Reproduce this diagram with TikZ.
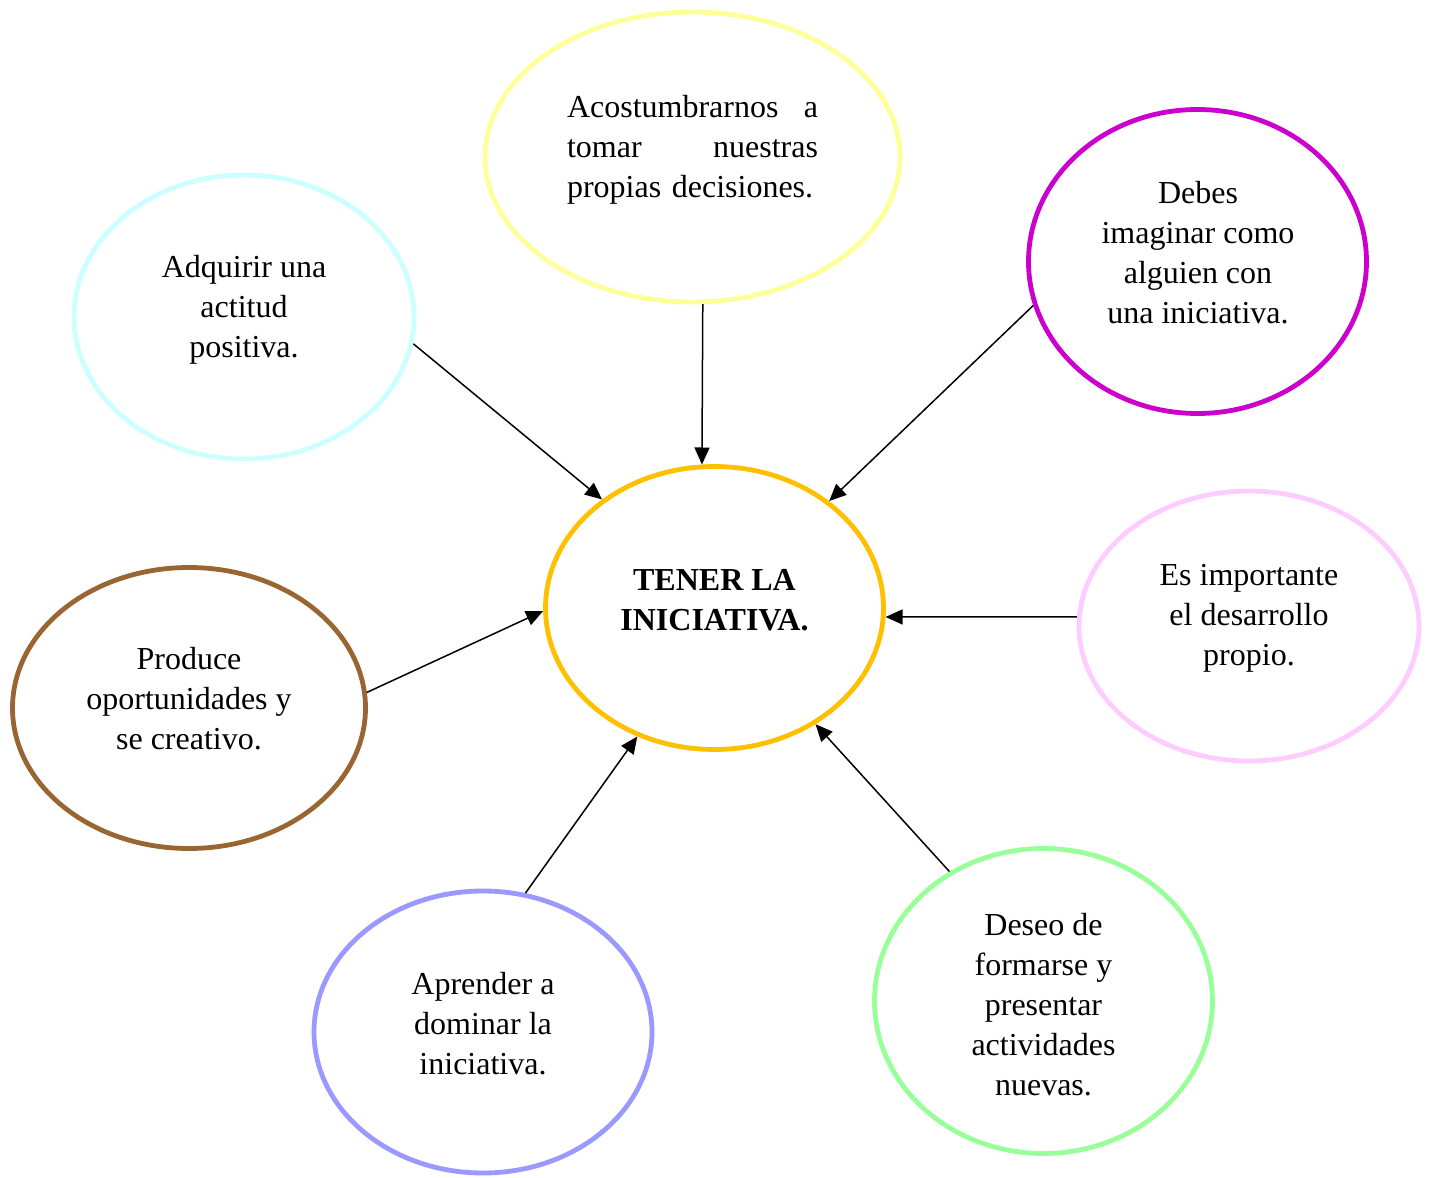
\documentclass[tikz,border=0pt]{standalone}
\usepackage{fontspec}
\setmainfont{Liberation Serif}
\usetikzlibrary{shapes.geometric,arrows.meta}

\definecolor{cYellow}{HTML}{FFFF99}
\definecolor{cCyan}{HTML}{CCFFFF}
\definecolor{cMagenta}{HTML}{CC00CC}
\definecolor{cOrange}{HTML}{FFC000}
\definecolor{cPink}{HTML}{FFCCFF}
\definecolor{cBrown}{HTML}{996633}
\definecolor{cBlue}{HTML}{9999FF}
\definecolor{cGreen}{HTML}{99FF99}

\tikzset{
  bubble/.style={ellipse, draw=#1, line width=2.4pt, inner sep=0pt},
  label text/.style={align=center, inner sep=0pt, font=\fontsize{16}{20}\selectfont},
  link/.style={line width=0.75pt, -{Triangle[length=8.5pt,width=7.5pt]}},
}

\begin{document}
\begin{tikzpicture}[x=0.5pt, y=-0.5pt]
\useasboundingbox (0,0) rectangle (1432,1178);

% bubbles (size = path size in pt)
\node[bubble=cOrange, minimum width=169pt, minimum height=141.5pt] (core) at (714.5,608) {};
\node[bubble=cYellow, minimum width=207.5pt, minimum height=145pt] (top) at (692.5,157) {};
\node[bubble=cCyan, minimum width=170pt, minimum height=142pt] (ul) at (244,317) {};
\node[bubble=cMagenta, minimum width=169pt, minimum height=152pt] (ur) at (1197.5,261.5) {};
\node[bubble=cPink, minimum width=170pt, minimum height=135pt] (rt) at (1249,626) {};
\node[bubble=cBrown, minimum width=176.5pt, minimum height=140.5pt] (lt) at (189,708) {};
\node[bubble=cBlue, minimum width=169pt, minimum height=141pt] (bl) at (483,1032) {};
\node[bubble=cGreen, minimum width=169pt, minimum height=152.5pt] (br) at (1043.5,1001) {};

% texts
\node[label text, font=\fontsize{16}{20}\selectfont\bfseries] (coreT) at (714.5,600) {TENER LA\\INICIATIVA.};
\node[label text, text width=125.5pt, align=left] (topT) at (692.5,150) {Acostumbrarnos\hfill a\\tomar\hfill nuestras\\propias decisiones.};
\node[label text] (ulT) at (244,310) {Adquirir una\\actitud\\positiva.};
\node[label text] (urT) at (1198,253) {Debes\\imaginar como\\alguien con\\una iniciativa.};
\node[label text] (rtT) at (1249,618) {Es importante\\el desarrollo\\propio.};
\node[label text] (ltT) at (189,699) {Produce\\oportunidades y\\se creativo.};
\node[label text] (blT) at (483,1024) {Aprender a\\dominar la\\iniciativa.};
\node[label text] (brT) at (1043.5,1005) {Deseo de\\formarse y\\presentar\\actividades\\nuevas.};

% connectors
\draw[link] (ul.-9.6) -- (core.136.6);
\draw[link] (top.-86.5) -- (core.95.2);
\draw[link] (ur.-165) -- (core.43.4);
\draw[link] (rt.177.1) -- (core.-3.9);
\draw[link] (lt.5.7) -- (core.-179);
\draw[link] (bl.73.9) -- (core.-121.9);
\draw[link] (br.126.5) -- (core.-49.1);
\end{tikzpicture}
\end{document}
